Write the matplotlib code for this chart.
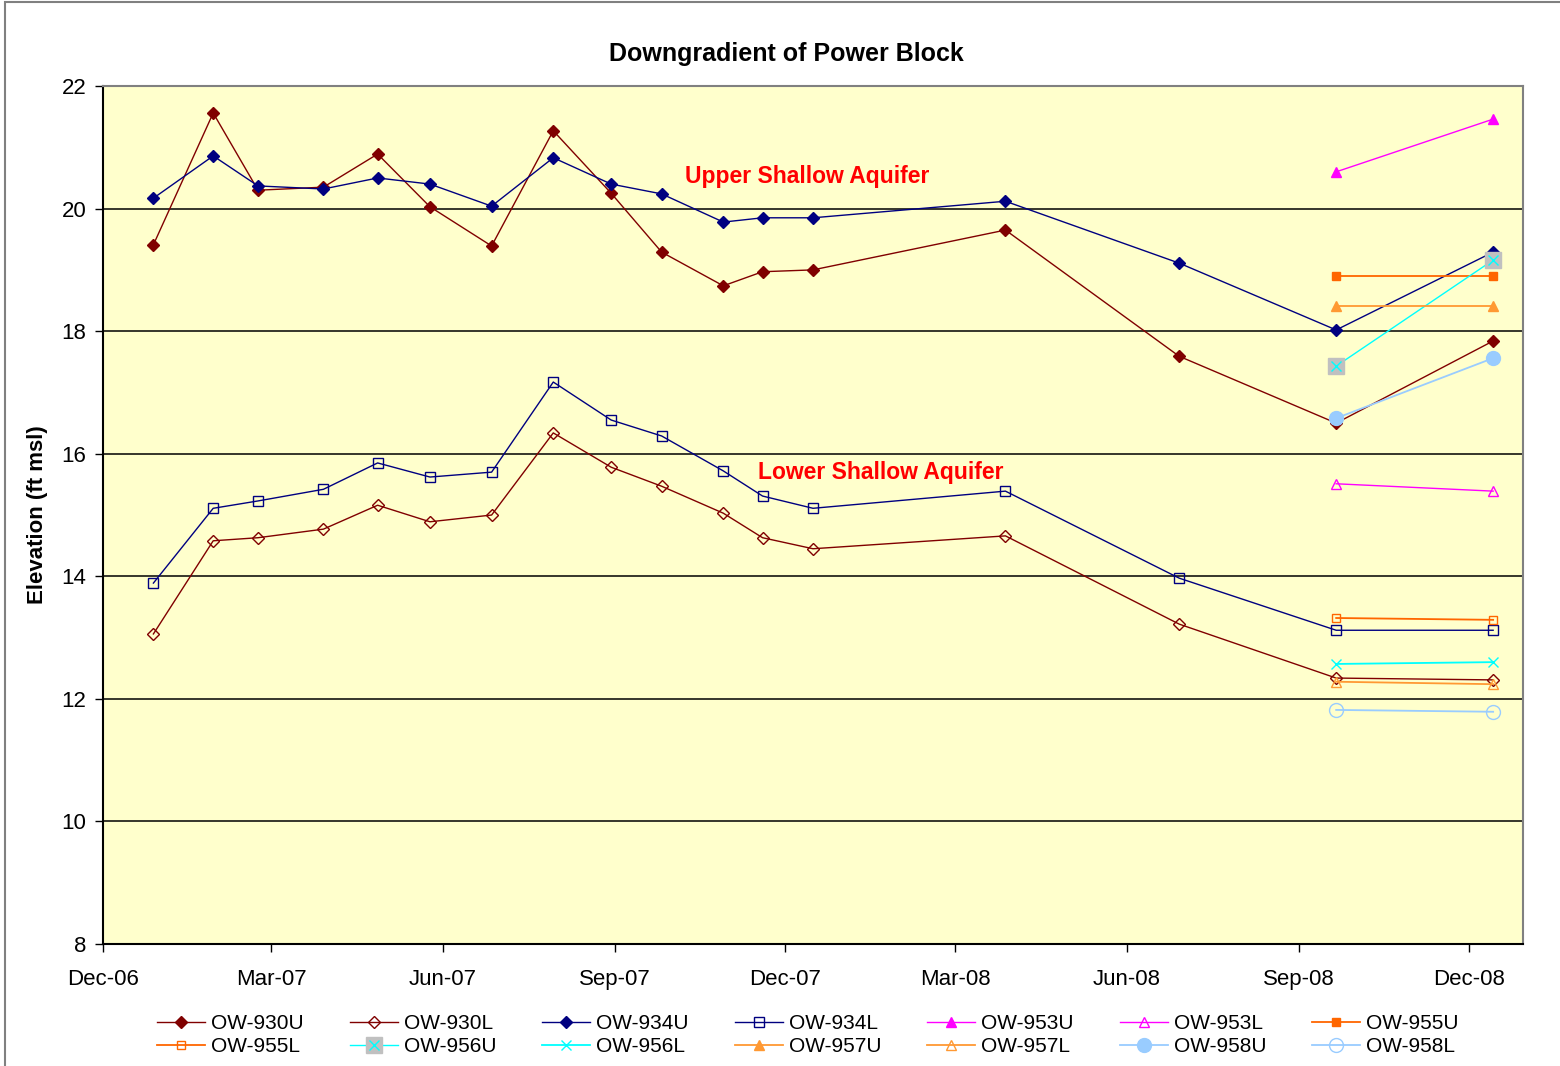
import numpy as np
import matplotlib
matplotlib.use('Agg')
import matplotlib.pyplot as plt
import matplotlib.dates as mdates
from matplotlib.patches import Rectangle
from matplotlib.legend_handler import HandlerTuple

plt.rcParams['font.family'] = ['Liberation Sans', 'DejaVu Sans']

# sampling dates for the long-record wells
dates = np.array(['2006-12-28', '2007-01-29', '2007-02-22', '2007-03-29', '2007-04-27',
                  '2007-05-25', '2007-06-27', '2007-07-30', '2007-08-30', '2007-09-26',
                  '2007-10-29', '2007-11-19', '2007-12-16', '2008-03-28', '2008-06-29',
                  '2008-09-21', '2008-12-14'], dtype='datetime64[D]')
ow930u = [19.41, 21.56, 20.30, 20.35, 20.89, 20.03, 19.39, 21.27, 20.25, 19.29,
          18.74, 18.97, 19.00, 19.65, 17.59, 16.50, 17.84]
ow930l = [13.06, 14.58, 14.63, 14.77, 15.16, 14.89, 15.00, 16.34, 15.78, 15.47,
          15.03, 14.63, 14.45, 14.66, 13.22, 12.34, 12.31]
ow934u = [20.17, 20.86, 20.37, 20.32, 20.50, 20.40, 20.04, 20.83, 20.40, 20.24,
          19.78, 19.85, 19.85, 20.12, 19.11, 18.02, 19.29]
ow934l = [13.89, 15.11, 15.23, 15.42, 15.85, 15.62, 15.70, 17.17, 16.55, 16.29,
          15.72, 15.31, 15.11, 15.39, 13.97, 13.12, 13.12]

# newer wells, two events only
dates_new = np.array(['2008-09-21', '2008-12-14'], dtype='datetime64[D]')
ow953u = [20.60, 21.46]
ow953l = [15.51, 15.39]
ow955u = [18.90, 18.90]
ow955l = [13.32, 13.29]
ow956u = [17.43, 19.16]
ow956l = [12.57, 12.60]
ow957u = [18.41, 18.41]
ow957l = [12.28, 12.24]
ow958u = [16.58, 17.56]
ow958l = [11.82, 11.79]

fig = plt.figure(figsize=(15.6, 10.66), dpi=100)
ax = fig.add_axes([0.066, 0.1144, 0.9103, 0.8049])
ax.set_facecolor('#FFFFCC')

red = '#800000'
navy = '#000080'
mag = '#FF00FF'
org = '#FF6600'
org2 = '#FF9933'
cyan = '#00FFFF'
lblue = '#99CCFF'

h = []
h.append(ax.plot(dates, ow930u, color=red, lw=1, marker='D', ms=6.5, mfc=red, mec=red)[0])
h.append(ax.plot(dates, ow930l, color=red, lw=1, marker='D', ms=6.5, mfc='none', mec=red)[0])
h.append(ax.plot(dates, ow934u, color=navy, lw=1, marker='D', ms=6.5, mfc=navy, mec=navy)[0])
h.append(ax.plot(dates, ow934l, color=navy, lw=1, marker='s', ms=7, mfc='none', mec=navy)[0])
h.append(ax.plot(dates_new, ow953u, color=mag, lw=1, marker='^', ms=6.5, mfc=mag, mec=mag)[0])
h.append(ax.plot(dates_new, ow953l, color=mag, lw=1, marker='^', ms=6.5, mfc='none', mec=mag)[0])
h.append(ax.plot(dates_new, ow955u, color=org, lw=1.3, marker='s', ms=6, mfc=org, mec=org)[0])
h.append(ax.plot(dates_new, ow955l, color=org, lw=1.3, marker='s', ms=6, mfc='none', mec=org)[0])
sq = ax.plot(dates_new, ow956u, color=cyan, lw=1, marker='s', ms=11, mfc='#C0C0C0', mec='#C0C0C0')[0]
xx = ax.plot(dates_new, ow956u, ls='none', marker='x', ms=7, mec=cyan, mew=1)[0]
h.append((sq, xx))
h.append(ax.plot(dates_new, ow956l, color=cyan, lw=1.3, marker='x', ms=7, mec=cyan)[0])
h.append(ax.plot(dates_new, ow957u, color=org2, lw=1.3, marker='^', ms=6.5, mfc=org2, mec=org2)[0])
h.append(ax.plot(dates_new, ow957l, color=org2, lw=1.3, marker='^', ms=6.5, mfc='none', mec=org2)[0])
h.append(ax.plot(dates_new, ow958u, color=lblue, lw=1.3, marker='o', ms=10, mfc=lblue, mec=lblue)[0])
h.append(ax.plot(dates_new, ow958l, color=lblue, lw=1.3, marker='o', ms=10, mfc='none', mec=lblue)[0])

names = ['OW-930U', 'OW-930L', 'OW-934U', 'OW-934L', 'OW-953U', 'OW-953L', 'OW-955U',
         'OW-955L', 'OW-956U', 'OW-956L', 'OW-957U', 'OW-957L', 'OW-958U', 'OW-958L']

ax.set_xlim(np.datetime64('2006-12-01'), np.datetime64('2008-12-30'))
ax.set_ylim(8, 22)
ax.set_yticks(np.arange(8, 23, 2))
ax.xaxis.set_major_locator(mdates.MonthLocator(bymonth=[3, 6, 9, 12]))
ax.xaxis.set_major_formatter(mdates.DateFormatter('%b-%y'))
ax.grid(axis='y', color='black', lw=1.1)
ax.set_axisbelow(True)
ax.tick_params(axis='both', labelsize=16, direction='out', length=6, width=1, color='black')
ax.tick_params(axis='x', pad=12)
ax.tick_params(axis='y', pad=6)
for s in ax.spines.values():
    s.set_color('#808080')
    s.set_linewidth(1.5)
ax.spines['left'].set_color('black')
ax.spines['bottom'].set_color('black')

ax.set_ylabel('Elevation (ft msl)', fontsize=16, fontweight='bold', labelpad=10)
fig.text(0.504, 0.949, 'Downgradient of Power Block', fontsize=18, fontweight='bold',
         ha='center', va='center')

ax.text(0.496, 0.894, 'Upper Shallow Aquifer', transform=ax.transAxes, color='red',
        fontsize=16.5, fontweight='bold', ha='center', va='center')
ax.text(0.5475, 0.550, 'Lower Shallow Aquifer', transform=ax.transAxes, color='red',
        fontsize=16.5, fontweight='bold', ha='center', va='center')

# legend fills column-wise, so interleave the two rows
order = []
for c in range(7):
    order += [c, c + 7]
leg = fig.legend([h[i] for i in order], [names[i] for i in order], ncol=7, loc='center',
                 bbox_to_anchor=(0.518, 0.029), frameon=False, fontsize=15,
                 handlelength=2.3, handletextpad=0.3, columnspacing=2.2,
                 labelspacing=0.2, borderpad=0.1,
                 handler_map={tuple: HandlerTuple(ndivide=1)})

# outer chart border
fig.patches.append(Rectangle((5 / 1560, -0.1), 1.2, 1.1 - 2 / 1066, transform=fig.transFigure,
                             fill=False, edgecolor='#808080', lw=1.5))

fig.savefig('out.png', dpi=100)
